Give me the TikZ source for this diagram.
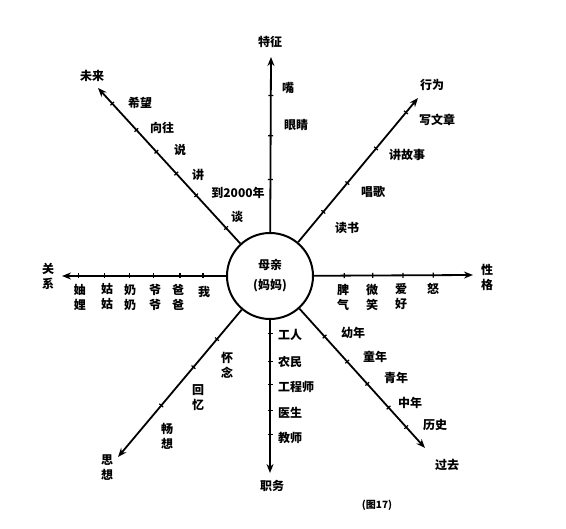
\documentclass[tikz,border=0pt]{standalone}
\usepackage{fontspec}
\setmainfont{Noto Sans CJK SC}
\usetikzlibrary{arrows.meta}

\tikzset{
  spoke/.style={line width=1.8pt, -{Stealth[length=9pt,width=7pt]}},
  tickmark/.style={sloped, fill=black, inner sep=0pt, minimum width=1.2pt, minimum height=5pt},
  lbl/.style={font=\fontsize{12}{15}\selectfont\bfseries, align=center, inner sep=1pt},
}

\begin{document}
\begin{tikzpicture}[x=1pt, y=-1pt]
\useasboundingbox (0,0) rectangle (566,529);

% centre
\node[draw, circle, line width=2pt, minimum size=86pt, inner sep=0pt, lbl] (mother) at (270,276) {母亲\\[5pt](妈妈)};

% ends of the spokes
\coordinate (toptip) at (271,57);
\coordinate (urtip) at (418,98);
\coordinate (rtip) at (473,275);
\coordinate (lrtip) at (425,448);
\coordinate (btip) at (270,473);
\coordinate (lltip) at (118,457);
\coordinate (ltip) at (62,276);
\coordinate (ultip) at (98,88);

\draw[spoke] (mother) -- (toptip) node[tickmark, pos=0.3] {} node[tickmark, pos=0.55] {} node[tickmark, pos=0.78] {};
\draw[spoke] (mother) -- (urtip) node[tickmark, pos=0.21] {} node[tickmark, pos=0.41] {} node[tickmark, pos=0.65] {} node[tickmark, pos=0.9] {};
\draw[spoke] (mother) -- (rtip) node[tickmark, pos=0.19] {} node[tickmark, pos=0.37] {} node[tickmark, pos=0.56] {} node[tickmark, pos=0.75] {};
\draw[spoke] (mother) -- (lrtip) node[tickmark, pos=0.2] {} node[tickmark, pos=0.38] {} node[tickmark, pos=0.54] {} node[tickmark, pos=0.71] {} node[tickmark, pos=0.85] {};
\draw[spoke] (mother) -- (btip) node[tickmark, pos=0.09] {} node[tickmark, pos=0.27] {} node[tickmark, pos=0.42] {} node[tickmark, pos=0.59] {} node[tickmark, pos=0.75] {};
\draw[spoke] (mother) -- (lltip) node[tickmark, pos=0.2] {} node[tickmark, pos=0.39] {} node[tickmark, pos=0.65] {};
\draw[spoke] (mother) -- (ltip) node[tickmark, pos=0.14] {} node[tickmark, pos=0.28] {} node[tickmark, pos=0.44] {} node[tickmark, pos=0.59] {} node[tickmark, pos=0.74] {} node[tickmark, pos=0.9] {};
\draw[spoke] (mother) -- (ultip) node[tickmark, pos=0.1] {} node[tickmark, pos=0.31] {} node[tickmark, pos=0.45] {} node[tickmark, pos=0.59] {} node[tickmark, pos=0.73] {} node[tickmark, pos=0.9] {};

% names of the spokes
\node[lbl] (trait) at (270,42) {特征};
\node[lbl] (deed) at (432,85) {行为};
\node[lbl] (temper) at (487,277) {性\\格};
\node[lbl] (past) at (447,465) {过去};
\node[lbl] (job) at (272,486) {职务};
\node[lbl] (thought) at (107,468) {思\\想};
\node[lbl] (kin) at (48,276) {关\\系};
\node[lbl] (future) at (92,76) {未来};

% top
\node[lbl] (mouth) at (288,88) {嘴};
\node[lbl] (eyes) at (296,125) {眼睛};

% upper right
\node[lbl] (essay) at (437,120) {写文章};
\node[lbl] (story) at (407,155) {讲故事};
\node[lbl] (sing) at (373,192) {唱歌};
\node[lbl] (read) at (347,228) {读书};

% right
\node[lbl] (mood) at (343,297) {脾\\气};
\node[lbl] (smile) at (372,297) {微\\笑};
\node[lbl] (hobby) at (401,297) {爱\\好};
\node[lbl] (anger) at (433,289) {怒};

% lower right
\node[lbl] (child) at (353,333) {幼年};
\node[lbl] (youth) at (375,357) {童年};
\node[lbl] (young) at (396,378) {青年};
\node[lbl] (middle) at (410,403) {中年};
\node[lbl] (history) at (435,425) {历史};

% bottom
\node[lbl, anchor=west] (worker) at (277,335) {工人};
\node[lbl, anchor=west] (farmer) at (277,362) {农民};
\node[lbl, anchor=west] (engineer) at (277,387) {工程师};
\node[lbl, anchor=west] (doctor) at (277,413) {医生};
\node[lbl, anchor=west] (teacher) at (277,438) {教师};

% lower left
\node[lbl] (miss) at (227,365) {怀\\念};
\node[lbl] (recall) at (198,398) {回\\忆};
\node[lbl] (dream) at (167,436) {畅\\想};

% left
\node[lbl] (me) at (204,292) {我};
\node[lbl] (dad) at (178,297) {爸\\爸};
\node[lbl] (grandpa) at (155,297) {爷\\爷};
\node[lbl] (grandma) at (130,297) {奶\\奶};
\node[lbl] (aunt) at (107,297) {姑\\姑};
\node[lbl] (inlaws) at (80,297) {妯\\娌};

% upper left
\node[lbl] (hope) at (140,103) {希望};
\node[lbl] (yearn) at (162,128) {向往};
\node[lbl] (say) at (180,150) {说};
\node[lbl] (tell) at (198,175) {讲};
\node[lbl] (year) at (238,193) {到2000年};
\node[lbl] (talk) at (237,217) {谈};

\node[font=\fontsize{10}{12}\selectfont\bfseries] (caption) at (377,505) {(图17)};
\end{tikzpicture}
\end{document}
